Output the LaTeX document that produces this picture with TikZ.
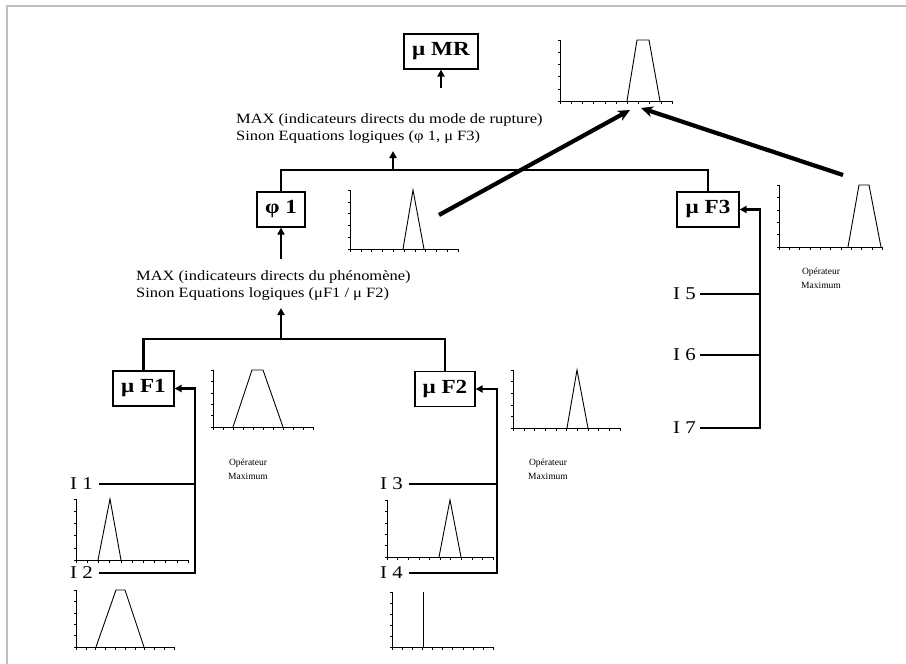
\documentclass[tikz,border=0pt]{standalone}
\usepackage{fontspec}
\setmainfont[FakeStretch=1.16]{Liberation Serif}
\newfontfamily\opfont{Liberation Serif}
\usetikzlibrary{arrows.meta}
\newcommand{\minichart}[4]{%
  \draw[axisln] (#1,#2) -- (#1,#3) -- (#4,#3);
  \foreach \k in {0,...,5} \draw[tickln] (#1,{#3-\k*(#3-#2)/5}) -- ++(-2.5,0);
  \foreach \k in {0,...,10} \draw[tickln] ({#1+\k*(#4-#1)/10},#3) -- ++(0,2.5);
}
\begin{document}
\begin{tikzpicture}[x=1pt,y=-1pt,
  box/.style={draw,line width=1.1pt,font=\bfseries\fontsize{20}{24}\selectfont,inner sep=0pt,minimum height=35pt},
  txt/.style={font=\fontsize{14.2}{17}\selectfont,inner sep=0pt,anchor=base west},
  lab/.style={font=\fontsize{18}{22}\selectfont,inner sep=0pt,anchor=west},
  op/.style={font=\opfont\fontsize{9.5}{14}\selectfont,align=center,inner sep=0pt},
  conn/.style={line width=2.4pt},
  arr/.style={line width=2.4pt,-{Triangle[length=7pt,width=7pt]}},
  bigarr/.style={line width=4.2pt,-{Stealth[length=12pt,width=11pt]}},
  axisln/.style={line width=0.7pt},
  tickln/.style={line width=0.4pt},
  shp/.style={line width=0.9pt,line join=miter}]
\useasboundingbox (0,0) rectangle (906,664);
\fill[white] (0,0) rectangle (906,664);
\draw[black!25,line width=2pt] (7,664) -- (7,6) -- (906,6);

% boxes
\node[box,minimum width=74pt] (mrbox) at (441,51.5) {μ MR};
\node[box,minimum width=48pt] (phibox) at (281,209.5) {φ 1};
\node[box,minimum width=62pt] (f3box) at (708,209.5) {μ F3};
\node[box,minimum width=61pt] (f1box) at (143.5,388.5) {μ F1};
\node[box,minimum width=60pt] (f2box) at (445,389) {μ F2};

% texts
\node[txt] (mrtxt1) at (236,123) {MAX (indicateurs directs du mode de rupture)};
\node[txt] (mrtxt2) at (236,140) {Sinon Equations logiques (φ 1, μ F3)};
\node[txt] (phitxt1) at (136,280) {MAX (indicateurs directs du phénomène)};
\node[txt] (phitxt2) at (136,297) {Sinon Equations logiques (μF1 / μ F2)};

\node[op] (op1) at (248,469) {Opérateur\\Maximum};
\node[op] (op2) at (548,469) {Opérateur\\Maximum};
\node[op] (op3) at (821,278) {Opérateur\\Maximum};

% input labels
\node[lab] (i1) at (70,484) {I 1};
\node[lab] (i2) at (70,573) {I 2};
\node[lab] (i3) at (380,484) {I 3};
\node[lab] (i4) at (380,573) {I 4};
\node[lab] (i5) at (673,294) {I 5};
\node[lab] (i6) at (673,355) {I 6};
\node[lab] (i7) at (673,428) {I 7};

% coordinates
\coordinate (mrin) at (441,88);
\coordinate (bus1) at (393,170);
\coordinate (maxin1) at (393,151);
\coordinate (phiin) at (281,259);
\coordinate (bus2) at (281,339);
\coordinate (maxin2) at (281,308);
\coordinate (f1rail) at (195,0);
\coordinate (f2rail) at (497,0);
\coordinate (f3rail) at (760,0);

% connectors
\draw[arr] (mrbox.south |- mrin) -- (mrbox.south);
\draw[conn] (phibox.north) -- (phibox.north |- bus1) -- (f3box.north |- bus1) -- (f3box.north);
\draw[arr] (bus1) -- (maxin1);
\draw[arr] (phibox.south |- phiin) -- (phibox.south);
\draw[conn] (f1box.north) -- (f1box.north |- bus2) -- (f2box.north |- bus2) -- (f2box.north);
\draw[arr] (bus2) -- (maxin2);

\draw[conn] ([xshift=6pt]i1.east) -- (i1 -| f1rail);
\draw[arr] ([xshift=6pt]i2.east) -- (i2 -| f1rail) -- (f1box.east -| f1rail) -- (f1box.east);
\draw[conn] ([xshift=6pt]i3.east) -- (i3 -| f2rail);
\draw[arr] ([xshift=6pt]i4.east) -- (i4 -| f2rail) -- (f2box.east -| f2rail) -- (f2box.east);
\draw[conn] ([xshift=4pt]i5.east) -- (i5 -| f3rail);
\draw[conn] ([xshift=4pt]i6.east) -- (i6 -| f3rail);
\draw[arr] ([xshift=4pt]i7.east) -- (i7 -| f3rail) -- (f3box.east -| f3rail) -- (f3box.east);

% mini charts
\minichart{560}{40}{101}{672}
\draw[shp] (627,101) -- (637,40) -- (649,40) -- (660,101);
\minichart{350}{190}{249}{458}
\draw[shp] (403,249) -- (413,190) -- (424,249);
\minichart{779}{185}{247}{882}
\draw[shp] (848,247) -- (859,185) -- (869,185) -- (881,247);
\minichart{213}{370}{427}{313}
\draw[shp] (233,427) -- (252,370) -- (263,370) -- (283,427);
\minichart{513}{370}{428}{620}
\draw[shp] (567,428) -- (577,370) -- (588,428);
\minichart{76}{499}{560}{188}
\draw[shp] (98,560) -- (110,499) -- (121,560);
\minichart{76}{590}{647}{174}
\draw[shp] (96,647) -- (116,590) -- (125,590) -- (144,647);
\minichart{387}{500}{557}{493}
\draw[shp] (439,557) -- (450,500) -- (461,557);
\minichart{392}{592}{647}{493}
\draw[shp] (423,592) -- (423,647);

% big arrows
\coordinate (phiout) at (439,215);
\coordinate (mrchin1) at (630,110);
\coordinate (f3out) at (843,175);
\coordinate (mrchin2) at (641,108);
\draw[bigarr] (phiout) -- (mrchin1);
\draw[bigarr] (f3out) -- (mrchin2);
\end{tikzpicture}
\end{document}
